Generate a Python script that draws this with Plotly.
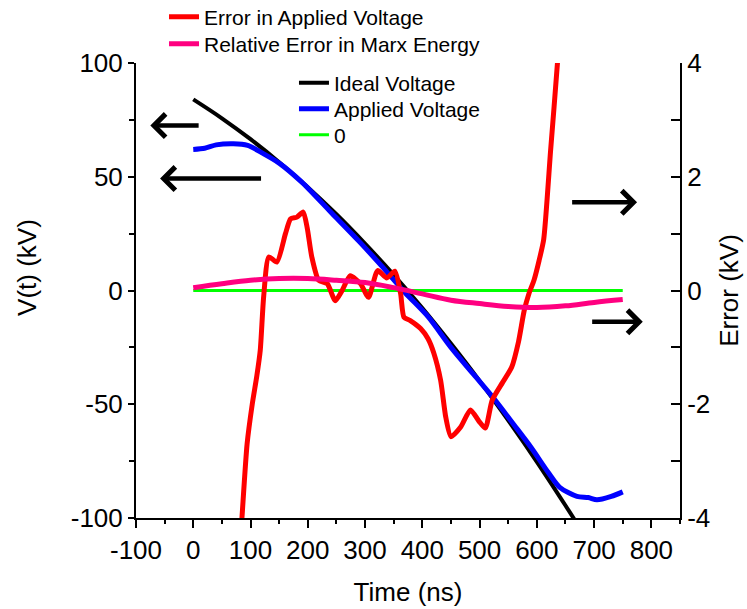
import plotly.graph_objects as go

FONT = "Liberation Sans, Arial, sans-serif"

# Ideal (target) voltage, kV
t_ideal = [0, 50, 100, 150, 200, 250, 300, 350, 400, 450, 500, 550, 600, 650, 670]
v_ideal = [84.0, 75.7, 66.5, 56.4, 45.4, 33.5, 20.6, 6.9, -7.7, -23.3, -39.7, -57.1, -75.3, -94.5, -102.4]

# Applied voltage, kV
t_applied = [0, 20, 40, 70, 95, 120, 150, 190, 240, 290, 330, 370, 410, 450, 490, 525, 560,
             590, 620, 640, 670, 690, 705, 730, 750]
v_applied = [62.0, 62.5, 64.0, 64.5, 63.8, 60.5, 56.0, 47.5, 34.5, 21.5, 10.5, -1.0, -11.5, -25.0,
             -37.0, -47.5, -59.0, -69.0, -80.0, -86.5, -90.5, -91.0, -92.0, -90.5, -88.5]

# Zero reference
t_zero = [0, 750]
v_zero = [0, 0]

# Error in applied voltage, kV (right axis)
t_err = [75, 85, 94, 103, 111, 117, 123, 132, 146, 161, 170, 181, 192, 199, 207, 219, 234, 248,
         260, 274, 292, 306, 322, 338, 352, 362, 368, 379, 397, 410, 420, 432, 441, 450, 467, 484,
         499, 510, 522, 540, 556, 568, 578, 586, 595, 604, 612, 624, 636, 645]
e_err = [-5.5, -4.0, -2.7, -2.0, -1.5, -1.05, -0.1, 0.59, 0.5, 1.0, 1.26, 1.29, 1.38, 1.1, 0.59,
         0.18, 0.12, -0.18, 0.0, 0.26, 0.12, -0.12, 0.35, 0.22, 0.34, -0.05, -0.47, -0.53, -0.67,
         -0.85, -1.1, -1.58, -2.23, -2.57, -2.4, -2.1, -2.3, -2.42, -1.93, -1.62, -1.35, -0.9,
         -0.35, -0.06, 0.18, 0.53, 0.9, 2.46, 4.0, 5.5]

# Relative error in Marx energy (right axis)
t_rel = [0, 50, 100, 150, 200, 250, 300, 350, 400, 450, 500, 550, 600, 650, 700, 750]
e_rel = [0.05, 0.12, 0.18, 0.21, 0.21, 0.18, 0.14, 0.05, -0.06, -0.17, -0.23, -0.28, -0.30,
         -0.27, -0.21, -0.16]

x_ticks = [-100, 0, 100, 200, 300, 400, 500, 600, 700, 800]
y_ticks = [-100, -50, 0, 50, 100]
y2_ticks = [-4, -2, 0, 2, 4]

fig = go.Figure()

fig.add_trace(go.Scatter(x=t_ideal, y=v_ideal, mode="lines", name="Ideal Voltage",
                         line=dict(color="#000000", width=4, shape="spline"), legend="legend3"))
fig.add_trace(go.Scatter(x=t_applied, y=v_applied, mode="lines", name="Applied Voltage",
                         line=dict(color="#0000FF", width=5, shape="spline", smoothing=0.8),
                         legend="legend4"))
fig.add_trace(go.Scatter(x=t_zero, y=v_zero, mode="lines", name="0",
                         line=dict(color="#00FF00", width=3), legend="legend5"))
fig.add_trace(go.Scatter(x=t_err, y=e_err, mode="lines", name="Error in Applied Voltage",
                         line=dict(color="#FF0000", width=5, shape="spline", smoothing=0.6),
                         yaxis="y2", legend="legend"))
fig.add_trace(go.Scatter(x=t_rel, y=e_rel, mode="lines", name="Relative Error in Marx Energy",
                         line=dict(color="#FF0080", width=5, shape="spline"),
                         yaxis="y2", legend="legend2"))

# Direction arrows pointing at the axis each curve belongs to
arrow_style = dict(showarrow=True, arrowhead=4, arrowsize=1, arrowwidth=4.5, arrowcolor="#000000",
                   text="", axref="x")
fig.add_annotation(x=-75, y=72.5, ax=12, ay=72.5, xref="x", yref="y", ayref="y", **arrow_style)
fig.add_annotation(x=-58, y=49.2, ax=121, ay=49.2, xref="x", yref="y", ayref="y", **arrow_style)
fig.add_annotation(x=775, y=1.55, ax=659, ay=1.55, xref="x", yref="y2", ayref="y2", **arrow_style)
fig.add_annotation(x=785, y=-0.55, ax=694, ay=-0.55, xref="x", yref="y2", ayref="y2", **arrow_style)

# Left axis title, set a little above the middle of the axis
fig.add_annotation(text="V(t) (kV)", textangle=-90, xref="paper", yref="paper",
                   x=-0.2, y=0.55, xanchor="center", yanchor="middle", showarrow=False,
                   font=dict(family=FONT, size=26, color="#000000"))

axis_common = dict(showgrid=False, zeroline=False, showline=True, linecolor="#000000",
                   linewidth=2, tickcolor="#000000", tickwidth=2,
                   tickfont=dict(family=FONT, size=26, color="#000000"))

legend_common = dict(xanchor="left", yanchor="middle", bgcolor="rgba(0,0,0,0)",
                     font=dict(family=FONT, size=21, color="#000000"), tracegroupgap=0)

fig.update_layout(
    width=747, height=609,
    margin=dict(l=136, r=67, t=63, b=91, autoexpand=False),
    paper_bgcolor="#FFFFFF", plot_bgcolor="#FFFFFF",
    font=dict(family=FONT, color="#000000"),
    showlegend=True,
    xaxis=dict(range=[-100, 850], tickvals=x_ticks, ticktext=[str(v) for v in x_ticks],
               ticks="outside", ticklen=8,
               title=dict(text="Time (ns)", font=dict(family=FONT, size=26), standoff=19),
               minor=dict(dtick=50, tick0=0, ticks="outside", ticklen=4, tickcolor="#000000",
                          tickwidth=2),
               **axis_common),
    yaxis=dict(range=[-100, 100], tickvals=y_ticks, ticktext=[str(v) for v in y_ticks],
               ticks="outside", ticklen=6,
               minor=dict(dtick=25, tick0=0, ticks="outside", ticklen=5, tickcolor="#000000",
                          tickwidth=2),
               **axis_common),
    yaxis2=dict(range=[-4, 4], tickvals=y2_ticks, ticktext=[str(v) for v in y2_ticks],
                ticks="inside", ticklen=9, overlaying="y", side="right",
                title=dict(text="Error (kV)", font=dict(family=FONT, size=26), standoff=10),
                minor=dict(dtick=1, tick0=0, ticks="inside", ticklen=9, tickcolor="#000000",
                           tickwidth=2),
                **axis_common),
    legend=dict(x=0.0515, y=1.1011, **legend_common),
    legend2=dict(x=0.0515, y=1.0418, **legend_common),
    legend3=dict(x=0.2904, y=0.9560, **legend_common),
    legend4=dict(x=0.2904, y=0.8989, **legend_common),
    legend5=dict(x=0.2904, y=0.8418, **legend_common),
)

fig.write_html("out.html")
